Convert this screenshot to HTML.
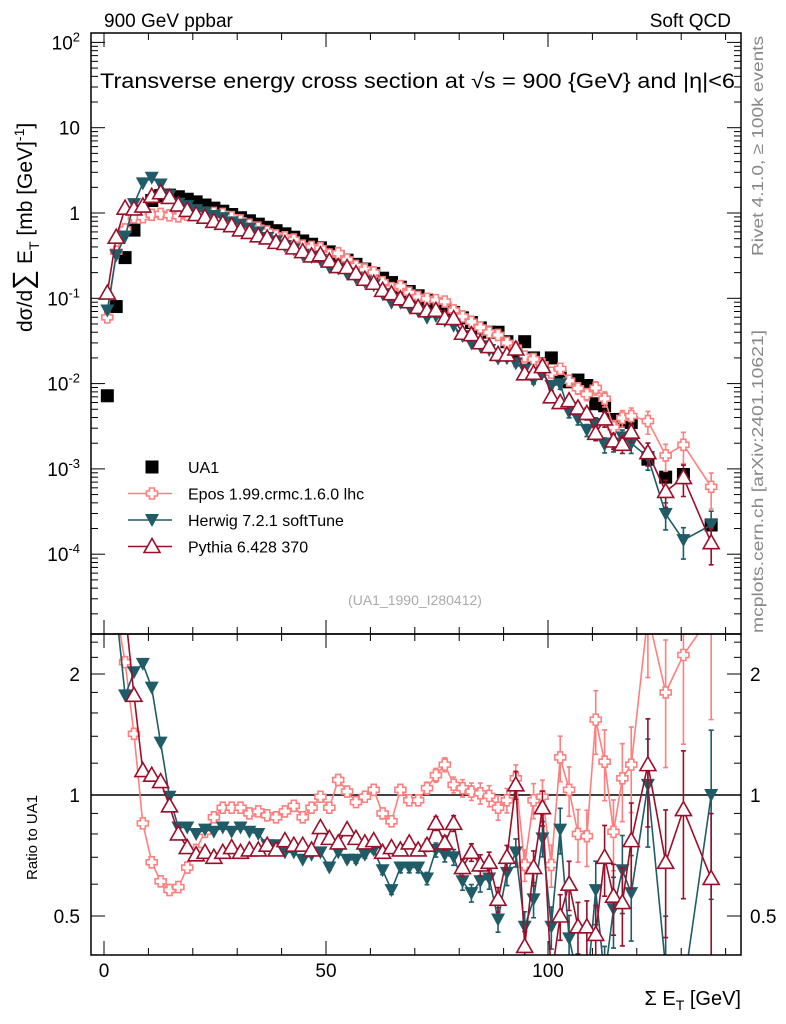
<!DOCTYPE html>
<html><head><meta charset="utf-8"><style>
html,body{margin:0;padding:0;background:#fff;overflow:hidden;width:786px;height:1024px;}
svg{display:block;font-family:"Liberation Sans",sans-serif;overflow:hidden;}
</style></head><body>
<svg id="c" width="786" height="1024" viewBox="0 0 786 1024" xmlns="http://www.w3.org/2000/svg">
<defs>
<clipPath id="cm"><rect x="91" y="33" width="650" height="601"/></clipPath>
<clipPath id="cr"><rect x="91" y="634" width="650" height="321"/></clipPath>
</defs>
<text x="104" y="27" font-size="19">900 GeV ppbar</text>
<text x="731" y="27" font-size="19" text-anchor="end">Soft QCD</text>
<text x="100" y="88" font-size="21" textLength="635" lengthAdjust="spacingAndGlyphs">Transverse energy cross section at √s = 900 {GeV} and |η|&lt;6</text>
<text transform="translate(763,256) rotate(-90)" font-size="16" fill="#888" textLength="220" lengthAdjust="spacingAndGlyphs">Rivet 4.1.0, ≥ 100k events</text>
<text transform="translate(763,633) rotate(-90)" font-size="16" fill="#888" textLength="303" lengthAdjust="spacingAndGlyphs">mcplots.cern.ch [arXiv:2401.10621]</text>
<text x="415" y="605" font-size="14" fill="#aaa" text-anchor="middle">(UA1_1990_I280412)</text>
<text transform="translate(32,332) rotate(-90)" font-size="21">dσ/d<tspan font-size="28">∑</tspan> E<tspan font-size="14" dy="7">T</tspan><tspan dy="-7">  [mb [GeV]</tspan><tspan font-size="14" dy="-8">-1</tspan><tspan dy="8">]</tspan></text>
<text transform="translate(37,880) rotate(-90)" font-size="15">Ratio to UA1</text>
<text x="741" y="1005" font-size="20" text-anchor="end">Σ E<tspan font-size="14" dy="5">T</tspan><tspan dy="-5"> [GeV]</tspan></text>
<g id="axes"></g>
<g id="main" clip-path="url(#cm)"></g>
<g id="ratio" clip-path="url(#cr)"></g>
<g id="legend"></g>
<rect x="91" y="33" width="650" height="601" fill="none" stroke="#000" stroke-width="1.5"/>
<rect x="91" y="634" width="650" height="321" fill="none" stroke="#000" stroke-width="1.5"/>
</svg>
<script>
const xBins = [0.75,2.75,4.75,6.75,8.75,10.75,12.75,14.75,16.75,18.75,20.75,22.75,24.75,26.75,28.75,30.75,32.75,34.75,36.75,38.75,40.75,42.75,44.75,46.75,48.75,50.75,52.75,54.75,56.75,58.75,60.75,62.75,64.75,66.75,68.75,70.75,72.75,74.75,76.75,78.75,80.75,82.75,84.75,86.75,88.75,90.75,92.75,94.75,96.75,98.75,100.75,102.75,104.75,106.75,108.75,110.75,112.75,114.75,116.75,118.75,122.5,126.5,130.5,136.75];
const ua1 = [0.0072,0.08,0.3,0.63,1.05,1.4,1.6,1.62,1.55,1.45,1.35,1.24,1.14,1.05,0.96,0.88,0.81,0.74,0.68,0.62,0.57,0.52,0.47,0.43,0.39,0.35,0.31,0.28,0.25,0.22,0.195,0.172,0.153,0.135,0.12,0.107,0.095,0.085,0.077,0.068,0.059,0.052,0.045,0.04,0.04,0.031,0.024,0.031,0.02,0.017,0.02,0.012,0.0105,0.011,0.0095,0.0058,0.0055,0.0038,0.0036,0.0035,0.0013,0.0008,0.00086,0.00022];
const eposRatio = [8.3,4.4,2.14,1.42,0.85,0.68,0.61,0.58,0.59,0.66,0.73,0.81,0.88,0.93,0.93,0.93,0.9,0.91,0.89,0.88,0.91,0.94,0.88,0.93,0.99,0.93,1.09,1.02,0.96,0.99,1.03,0.9,0.86,1.03,0.97,0.97,1.04,1.12,1.19,1.06,1.04,1.02,1.01,0.995,0.93,0.97,1.1,0.67,0.97,0.99,0.67,1.24,1.03,0.8,0.79,1.54,1.21,0.81,1.1,1.19,2.8,1.8,2.23,2.8];
const herwigRatio = [10,4,1.77,2.02,2.12,1.85,1.35,0.99,0.83,0.83,0.8,0.82,0.81,0.83,0.81,0.83,0.81,0.8,0.75,0.75,0.72,0.72,0.69,0.71,0.72,0.66,0.72,0.69,0.69,0.71,0.73,0.65,0.58,0.66,0.66,0.66,0.62,0.73,0.71,0.7,0.61,0.57,0.61,0.62,0.49,0.64,0.72,0.47,0.55,0.78,0.47,0.82,0.44,0.35,0.3,0.58,0.35,0.52,0.65,0.57,1.06,0.37,0.17,1.0];
const pythiaRatio = [16,6.5,3.8,1.77,1.15,1.12,1.08,0.94,0.8,0.74,0.71,0.72,0.7,0.72,0.74,0.72,0.73,0.73,0.75,0.73,0.77,0.75,0.75,0.73,0.83,0.78,0.76,0.82,0.78,0.76,0.77,0.72,0.74,0.73,0.76,0.73,0.75,0.85,0.76,0.85,0.66,0.72,0.67,0.68,0.55,0.7,1.06,0.42,0.66,0.93,0.35,0.5,0.6,0.47,0.47,0.45,0.7,0.56,0.54,0.77,1.19,0.68,0.92,0.62];
const relErr = [0,0,0,0,0,0,0,0,0,0,0,0,0,0,0,0,0,0,0,0,0.01,0.01,0.01,0.01,0.01,0.015,0.015,0.015,0.02,0.02,0.02,0.025,0.025,0.03,0.03,0.03,0.035,0.04,0.04,0.045,0.05,0.05,0.06,0.06,0.07,0.07,0.08,0.09,0.1,0.1,0.12,0.13,0.14,0.15,0.16,0.18,0.2,0.2,0.22,0.24,0.3,0.35,0.4,0.45];
const mainTicks = [2,1,0,-1,-2,-3,-4];
const ratioTicks = [2,1,0.5];
const xTicks = [0,50,100];

const NS='http://www.w3.org/2000/svg';
const clamp=(v,a,b)=>Math.max(a,Math.min(b,v));
const X = v => 104 + 4.44*v;
const YM = v => clamp(213 - 85.3*Math.log10(v), 10, 660);
const YR = r => clamp(795 - 121*Math.log2(r), 610, 990);
function el(tag, attrs, parent){const e=document.createElementNS(NS,tag);for(const k in attrs)e.setAttribute(k,attrs[k]);parent.appendChild(e);return e;}
const axes=document.getElementById('axes'), main=document.getElementById('main'), ratio=document.getElementById('ratio'), leg=document.getElementById('legend');

for(let d=-5; d<=2; d++){
  for(let m=1;m<=9;m++){
    const y=213 - 85.3*Math.log10(m*Math.pow(10,d)); if(y<33||y>634) continue;
    const L = m===1?14:7;
    let t=el('line',{x1:91,x2:91+L,y1:y,y2:y,stroke:'#000','stroke-width':1},axes);
    
    
    t=el('line',{x1:741-L,x2:741,y1:y,y2:y,stroke:'#000','stroke-width':1},axes);
    
    
  }
}
mainTicks.forEach(p=>{
  const y=YM(Math.pow(10,p));
  const t=el('text',{x:80,y:y+7,'font-size':19,'text-anchor':'end'},axes);
  
  
  if(p===0){t.textContent='1';}
  else if(p===1){t.textContent='10';}
  else{t.textContent='10';const s=el('tspan',{'font-size':13,dy:-8},t);s.textContent=String(p);}
});
[0.4,0.5,0.6,0.7,0.8,0.9,1,1.2,1.4,1.6,1.8,2,2.2,2.4].forEach(r=>{
  const y=795 - 121*Math.log2(r); if(y<634||y>955) return;
  const L=(r===0.5||r===1||r===2)?14:7;
  let t=el('line',{x1:91,x2:91+L,y1:y,y2:y,stroke:'#000'},axes);
  
  
  t=el('line',{x1:741-L,x2:741,y1:y,y2:y,stroke:'#000'},axes);
  
  
});
ratioTicks.forEach(r=>{
  const y=YR(r);
  let t=el('text',{x:80,y:y+7,'font-size':19,'text-anchor':'end'},axes);
  
  
  t.textContent=String(r);
  t=el('text',{x:750,y:y+7,'font-size':19},axes);
  
  
  t.textContent=String(r);
});
for(let v=0; v<=140; v+=10){
  const L = v%50===0?14:7;
  [[33,33+L],[634-L,634],[634,634+L],[955-L,955]].forEach(([a,b])=>{
    const t=el('line',{x1:X(v),x2:X(v),y1:a,y2:b,stroke:'#000'},axes);
    
    
  });
}
xTicks.forEach(v=>{
  const t=el('text',{x:X(v),y:977,'font-size':19,'text-anchor':'middle'},axes);
  
  
  t.textContent=String(v);
});
{const t=el('line',{x1:91,x2:741,y1:YR(1),y2:YR(1),stroke:'#000','stroke-width':1.5},ratio);

}

function marker(type,cx,cy,color,g){
  let m;
  if(type==='square') m=el('rect',{x:cx-6.5,y:cy-6.5,width:13,height:13,fill:color},g);
  else if(type==='cross'){const a=2.5,b=5.5;m=el('path',{d:`M${cx-a},${cy-b}h${2*a}v${b-a}h${b-a}v${2*a}h${-(b-a)}v${b-a}h${-2*a}v${-(b-a)}h${-(b-a)}v${-2*a}h${b-a}z`,fill:'#fff',stroke:color,'stroke-width':1.6},g);}
  else if(type==='down') m=el('path',{d:`M${cx-7},${cy-6}L${cx+7},${cy-6}L${cx},${cy+7}z`,fill:color},g);
  else m=el('path',{d:`M${cx-8},${cy+6}L${cx+8},${cy+6}L${cx},${cy-8}z`,fill:'#fff',stroke:color,'stroke-width':1.6},g);
  return m;
}
const series=[
 {name:'epos',r:eposRatio,color:'#ff7f7f',mk:'cross'},
 {name:'herwig',r:herwigRatio,color:'#1f5c67',mk:'down'},
 {name:'pythia',r:pythiaRatio,color:'#9a0f2a',mk:'up'}
];
ua1.forEach((v,i)=>{
  const m=marker('square',X(xBins[i]),YM(v),'#000',main);
  
  
});
series.forEach(s=>{
  ['main','ratio'].forEach(panel=>{
    const g=panel==='main'?main:ratio;
    const Y=panel==='main'?(i=>YM(ua1[i]*s.r[i])):(i=>YR(s.r[i]));
    const val=panel==='main'?(i=>ua1[i]*s.r[i]):(i=>s.r[i]);
    const pts=xBins.map((x,i)=>X(x).toFixed(1)+','+Y(i).toFixed(1)).join(' ');
    const l=el('polyline',{points:pts,fill:'none',stroke:s.color,'stroke-width':1.6},g);
    
    
    xBins.forEach((x,i)=>{
      const e=relErr[i];
      if(e>0){
        const v=val(i);
        const yt=panel==='main'?YM(v*(1+e)):YR(v*(1+e));
        const yb=panel==='main'?YM(Math.max(v*(1-e),1e-6)):YR(Math.max(v*(1-e),0.2));
        const eb=el('path',{d:`M${X(x)},${yt}V${yb}M${X(x)-2.5},${yt}h5M${X(x)-2.5},${yb}h5`,stroke:s.color,'stroke-width':1.6,fill:'none'},g);
        
        
      }
      const m=marker(s.mk,X(x),Y(i),s.color,g);
      
      
    });
  });
});
const legItems=[['UA1','square','#000'],['Epos 1.99.crmc.1.6.0 lhc','cross','#ff7f7f'],['Herwig 7.2.1 softTune','down','#1f5c67'],['Pythia 6.428 370','up','#9a0f2a']];
legItems.forEach((it,i)=>{
  const y=467+i*26.5;
  if(i>0){const l=el('line',{x1:128,x2:172,y1:y,y2:y,stroke:it[2],'stroke-width':1.6},leg);
  
  }
  const m=marker(it[1],152,y,it[2],leg);
  
  
  const t=el('text',{x:188,y:y+6,'font-size':16},leg);
  
  
  t.textContent=it[0];
});
</script>
</body></html>
